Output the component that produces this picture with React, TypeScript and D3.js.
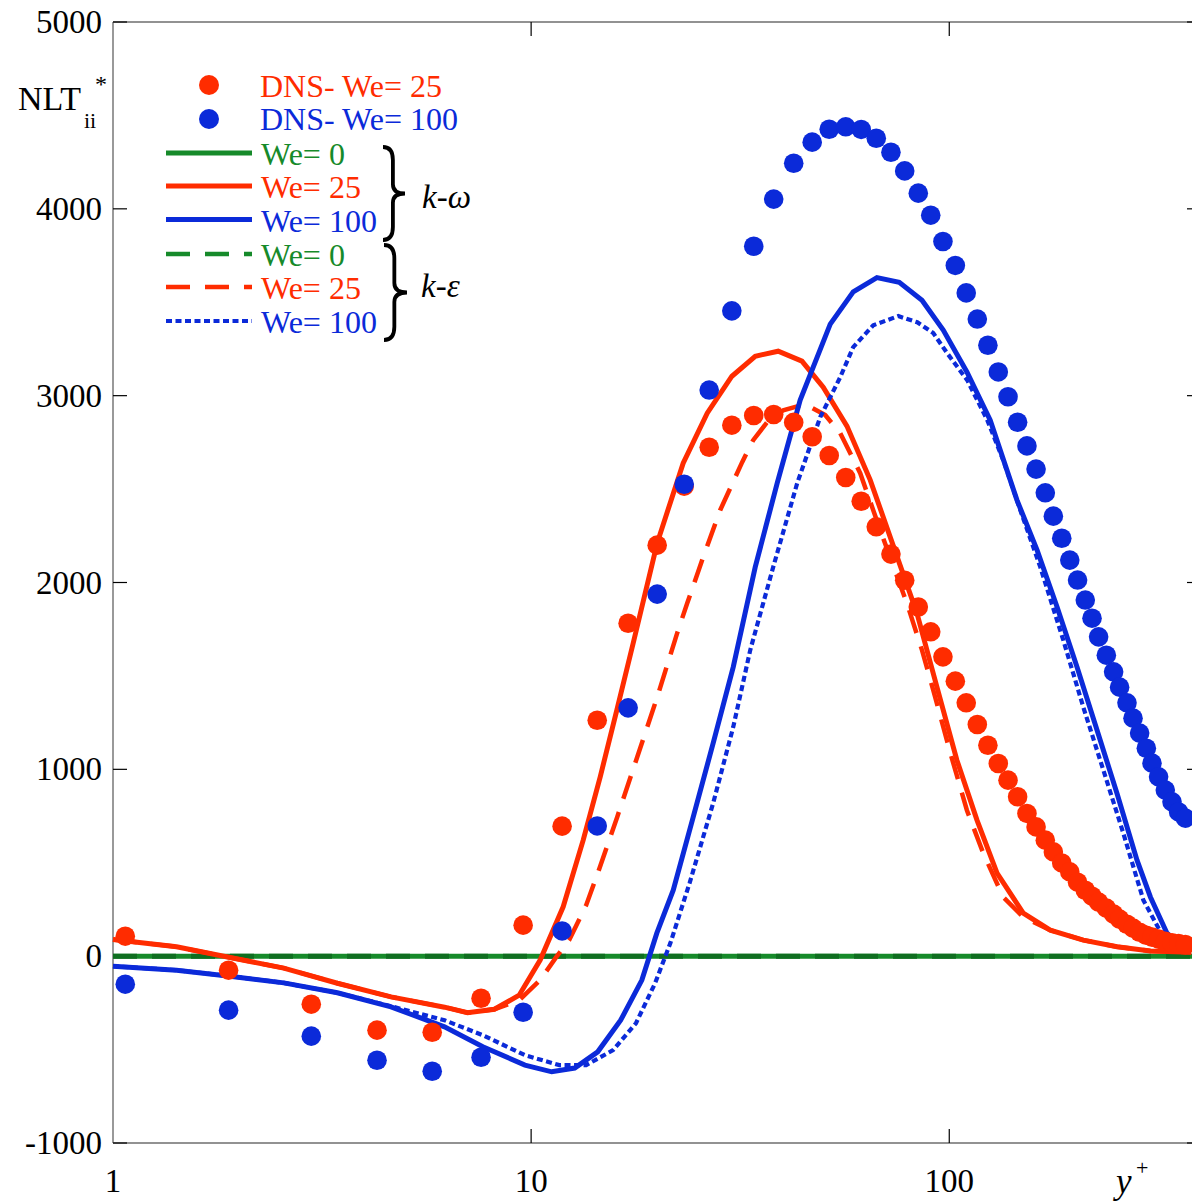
import React, { useEffect, useRef } from "react";
import * as d3 from "d3";

// DNS grid (y+) shared by both DNS series
const dnsYPlus = [1.07, 1.89, 2.98, 4.28, 5.8, 7.59, 9.57, 11.86, 14.39, 17.06, 20.02, 23.23, 26.66, 30.2, 34.07, 38.03, 42.46, 47.01, 51.63, 56.55, 61.58, 66.9, 72.53, 78.24, 84.32, 90.3, 96.58, 103.4, 109.8, 116.7, 123.7, 131.0, 138.2, 145.7, 153.4, 161.3, 169.7, 177.4, 185.8, 194.2, 202.7, 211.5, 219.5, 227.6, 237.5, 247.2, 255.5, 266.1, 275.1, 285.3, 296.0, 305.4, 316.7, 328.6, 341.0, 353.6, 367.0];
const dnsWe25 = [107, -75, -257, -396, -407, -225, 166, 696, 1263, 1782, 2200, 2516, 2724, 2842, 2894, 2899, 2857, 2780, 2680, 2562, 2435, 2298, 2152, 2012, 1869, 1736, 1602, 1472, 1356, 1240, 1129, 1031, 942, 853, 764, 692, 621, 558, 499, 451, 396, 353, 321, 289, 257, 225, 198, 171, 150, 128, 112, 102, 91, 80, 72, 67, 62];
const dnsWe100 = [-150, -289, -428, -557, -616, -541, -300, 135, 697, 1329, 1938, 2526, 3030, 3454, 3800, 4052, 4244, 4357, 4426, 4439, 4425, 4378, 4303, 4203, 4084, 3966, 3825, 3697, 3550, 3410, 3270, 3127, 2994, 2858, 2731, 2607, 2480, 2355, 2237, 2120, 2013, 1906, 1809, 1709, 1611, 1522, 1440, 1356, 1274, 1194, 1113, 1033, 960, 889, 826, 772, 739];

// model curves: [y+, NLT]
const kwWe0 = [[1, 0], [400, 0]];
const keWe0 = [[1, 0], [400, 0]];
const kwWe25 = [[1, 89], [1.419, 50], [1.905, -7], [2.561, -64], [3.441, -145], [4.622, -218], [6.206, -273], [7.044, -303], [8.166, -284], [9.362, -209], [10.51, -21], [11.93, 264], [13.32, 621], [14.63, 960], [16.03, 1317], [17.54, 1675], [20.02, 2211], [23.1, 2639], [26.37, 2906], [30.21, 3104], [34.35, 3211], [38.98, 3238], [44.43, 3185], [49.95, 3045], [56.93, 2837], [64.72, 2548], [75.09, 2136], [83.69, 1836], [93.45, 1440], [104.3, 1049], [116.5, 728], [130.1, 444], [150.3, 230], [174.4, 139], [209.2, 86], [251.9, 50], [302.7, 28], [379.2, 21]];
const keWe25 = [[1, 89], [1.419, 50], [1.905, -7], [2.561, -64], [3.441, -145], [4.622, -218], [6.206, -273], [7.044, -303], [8.166, -284], [9.362, -236], [10.51, -128], [11.48, -5], [12.33, 86], [13.54, 273], [14.38, 434], [16.06, 744], [17.93, 1065], [20.02, 1386], [22.35, 1729], [23.62, 1889], [25.65, 2120], [28.32, 2387], [31.97, 2644], [33.97, 2762], [36.69, 2858], [40.08, 2922], [45.23, 2955], [50.51, 2896], [54.86, 2799], [61.24, 2585], [68.39, 2280], [79.19, 1889], [86.06, 1638], [91.56, 1424], [100.6, 1087], [110.2, 781], [120.6, 551], [134.6, 316], [150.3, 209], [174.4, 139], [209.2, 86], [251.9, 50], [302.7, 28], [379.2, 21]];
const kwWe100 = [[1, -54], [1.419, -75], [1.905, -107], [2.561, -143], [3.441, -196], [4.622, -271], [6.206, -378], [7.664, -485], [9.665, -583], [11.2, -619], [12.71, -599], [14.43, -512], [16.37, -343], [18.4, -128], [19.98, 123], [21.87, 353], [24.41, 744], [27.25, 1140], [30.43, 1547], [34.35, 2082], [38.77, 2532], [44.0, 2976], [51.92, 3383], [58.93, 3556], [67.14, 3632], [75.93, 3607], [86.06, 3511], [96.74, 3351], [110.2, 3127], [125.3, 2869], [145.2, 2441], [162.2, 2173], [181.0, 1870], [202.1, 1548], [225.6, 1210], [251.9, 871], [281.2, 514], [302.7, 317], [331.7, 123], [362.9, 50], [379.2, 32]];
const keWe100 = [[1, -54], [1.419, -75], [1.905, -107], [2.561, -143], [3.441, -196], [4.622, -268], [6.206, -343], [7.664, -423], [9.665, -530], [11.68, -583], [13.54, -583], [15.7, -503], [17.81, -359], [19.79, -145], [21.53, 70], [23.93, 391], [27.25, 819], [30.43, 1226], [33.42, 1638], [37.92, 2082], [43.29, 2532], [49.14, 2885], [54.86, 3099], [58.93, 3260], [65.8, 3377], [75.51, 3426], [83.83, 3393], [91.56, 3335], [98.9, 3227], [110.4, 3083], [123.3, 2869], [134.6, 2655], [147.9, 2387], [165.1, 2082], [187.4, 1691], [209.2, 1333], [233.6, 996], [260.8, 658], [291.2, 300], [325.1, 102], [362.9, 48], [379.2, 32]];

const yTicks = [-1000, 0, 1000, 2000, 3000, 4000, 5000];
const xTicks = [1, 10, 100];

const RED = "#ff2c00";
const BLUE = "#0b2ad9";
const GREEN = "#168a2a";
const FONT = "'Liberation Serif', 'Times New Roman', serif";

const App = () => {
  const svgRef = useRef(null);
  const width = 1192;
  const height = 1203;

  useEffect(() => {
    const margin = { top: 22, left: 113, bottom: 60 };
    const innerH = height - margin.top - margin.bottom;
    const right = 1201; // plot box runs a little past the page edge
    const svg = d3.select(svgRef.current);
    svg.selectAll("*").remove();

    const x = d3.scaleLog().domain([1, 400]).range([margin.left, right]);
    const y = d3.scaleLinear().domain([-1000, 5000]).range([margin.top + innerH, margin.top]);
    const y0 = y(-1000);
    const y1 = y(5000);

    // frame
    const frame = svg.append("g").attr("stroke", "#6e6e6e").attr("stroke-width", 1.4).attr("fill", "none");
    frame.append("line").attr("x1", x(1)).attr("x2", right).attr("y1", y1).attr("y2", y1);
    frame.append("line").attr("x1", x(1)).attr("x2", right).attr("y1", y0).attr("y2", y0);
    frame.append("line").attr("x1", x(1)).attr("x2", x(1)).attr("y1", y1).attr("y2", y0);
    frame.append("line").attr("x1", right).attr("x2", right).attr("y1", y1).attr("y2", y0);

    const ticks = svg.append("g").attr("stroke", "#000").attr("stroke-width", 1.2);
    yTicks.forEach((t) => {
      ticks.append("line").attr("x1", x(1)).attr("x2", x(1) + 14).attr("y1", y(t)).attr("y2", y(t));
      ticks.append("line").attr("x1", right).attr("x2", right - 14).attr("y1", y(t)).attr("y2", y(t));
    });
    xTicks.slice(1).forEach((t) => {
      ticks.append("line").attr("x1", x(t)).attr("x2", x(t)).attr("y1", y0).attr("y2", y0 - 14);
      ticks.append("line").attr("x1", x(t)).attr("x2", x(t)).attr("y1", y1).attr("y2", y1 + 14);
    });

    svg.append("g")
      .selectAll("text")
      .data(yTicks)
      .enter()
      .append("text")
      .attr("x", x(1) - 11)
      .attr("y", (d) => y(d) + 11)
      .attr("text-anchor", "end")
      .style("font-family", FONT)
      .style("font-size", "33px")
      .text((d) => d);

    svg.append("g")
      .selectAll("text")
      .data(xTicks)
      .enter()
      .append("text")
      .attr("x", (d) => x(d))
      .attr("y", 1192)
      .attr("text-anchor", "middle")
      .style("font-family", FONT)
      .style("font-size", "33px")
      .text((d) => d);

    // curves
    const line = d3.line().x((d) => x(d[0])).y((d) => y(d[1]));
    const curves = [
      { data: kwWe0, color: GREEN, w: 5, dash: null },
      { data: keWe0, color: "#0f6e20", w: 5, dash: "24,15" },
      { data: kwWe25, color: RED, w: 5, dash: null },
      { data: keWe25, color: RED, w: 4.5, dash: "24,14" },
      { data: kwWe100, color: BLUE, w: 5, dash: null },
      { data: keWe100, color: BLUE, w: 4.2, dash: "6,3.5" },
    ];
    const g = svg.append("g");
    curves.forEach((c) => {
      g.append("path")
        .datum(c.data)
        .attr("d", line)
        .attr("fill", "none")
        .attr("stroke", c.color)
        .attr("stroke-width", c.w)
        .attr("stroke-dasharray", c.dash);
    });

    // DNS points
    g.append("g")
      .selectAll("circle")
      .data(dnsYPlus.map((v, i) => [v, dnsWe25[i]]))
      .enter()
      .append("circle")
      .attr("cx", (d) => x(d[0]))
      .attr("cy", (d) => y(d[1]))
      .attr("r", 9.8)
      .attr("fill", RED);
    g.append("g")
      .selectAll("circle")
      .data(dnsYPlus.map((v, i) => [v, dnsWe100[i]]))
      .enter()
      .append("circle")
      .attr("cx", (d) => x(d[0]))
      .attr("cy", (d) => y(d[1]))
      .attr("r", 9.8)
      .attr("fill", BLUE);

    // y label
    const yl = svg.append("g").style("font-family", FONT);
    yl.append("text").attr("x", 18).attr("y", 110).style("font-size", "34px").text("NLT");
    yl.append("text").attr("x", 84).attr("y", 128).style("font-size", "22px").text("ii");
    yl.append("text").attr("x", 95).attr("y", 92).style("font-size", "24px").text("*");

    // x label
    svg.append("text").attr("x", 1116).attr("y", 1193).style("font-family", FONT).style("font-size", "35px").style("font-style", "italic").text("y");
    svg.append("text").attr("x", 1136).attr("y", 1175).style("font-family", FONT).style("font-size", "22px").text("+");

    // legend
    const lg = svg.append("g").style("font-family", FONT).style("font-size", "32px");
    lg.append("circle").attr("cx", 209).attr("cy", 85).attr("r", 10).attr("fill", RED);
    lg.append("circle").attr("cx", 209).attr("cy", 119).attr("r", 10).attr("fill", BLUE);
    lg.append("text").attr("x", 260).attr("y", 97).attr("fill", RED).text("DNS- We= 25");
    lg.append("text").attr("x", 260).attr("y", 130).attr("fill", BLUE).text("DNS- We= 100");

    const rows = [
      { label: "We= 0", color: GREEN, dash: null, w: 5, ly: 153 },
      { label: "We= 25", color: RED, dash: null, w: 5, ly: 186 },
      { label: "We= 100", color: BLUE, dash: null, w: 5, ly: 219.5 },
      { label: "We= 0", color: GREEN, dash: "24,15", w: 4.5, ly: 254 },
      { label: "We= 25", color: RED, dash: "24,15", w: 4.5, ly: 287 },
      { label: "We= 100", color: BLUE, dash: "6,3.5", w: 3.8, ly: 321 },
    ];
    rows.forEach((r) => {
      lg.append("line")
        .attr("x1", 166)
        .attr("x2", 252)
        .attr("y1", r.ly)
        .attr("y2", r.ly)
        .attr("stroke", r.color)
        .attr("stroke-width", r.w)
        .attr("stroke-dasharray", r.dash);
      lg.append("text").attr("x", 261).attr("y", r.ly + 12).attr("fill", r.color).text(r.label);
    });

    // braces
    const brace = (bx, top, bot, w) => {
      const m = (top + bot) / 2;
      const h = bot - top;
      const cx = bx + w * 0.45;
      return `M${bx},${top} Q${cx},${top} ${cx},${top + h * 0.14} L${cx},${m - h * 0.1} Q${cx},${m} ${bx + w},${m} Q${cx},${m} ${cx},${m + h * 0.1} L${cx},${bot - h * 0.14} Q${cx},${bot} ${bx},${bot}`;
    };
    lg.append("path").attr("d", brace(383, 147, 240, 22)).attr("fill", "none").attr("stroke", "#000").attr("stroke-width", 3.8);
    lg.append("path").attr("d", brace(384, 245, 340, 23)).attr("fill", "none").attr("stroke", "#000").attr("stroke-width", 3.8);

    const kw = lg.append("text").attr("x", 422).attr("y", 208).attr("fill", "#000").style("font-size", "33px");
    kw.append("tspan").style("font-style", "italic").text("k");
    kw.append("tspan").text("-");
    kw.append("tspan").style("font-style", "italic").text("ω");
    const ke = lg.append("text").attr("x", 421).attr("y", 297).attr("fill", "#000").style("font-size", "33px");
    ke.append("tspan").style("font-style", "italic").text("k");
    ke.append("tspan").text("-");
    ke.append("tspan").style("font-style", "italic").text("ε");
  }, []);

  return (
    <div style={{ position: "absolute", left: 0, top: 0, width, height, overflow: "hidden", background: "#fff" }}>
      <svg ref={svgRef} width={width} height={height} />
    </div>
  );
};

export default App;
